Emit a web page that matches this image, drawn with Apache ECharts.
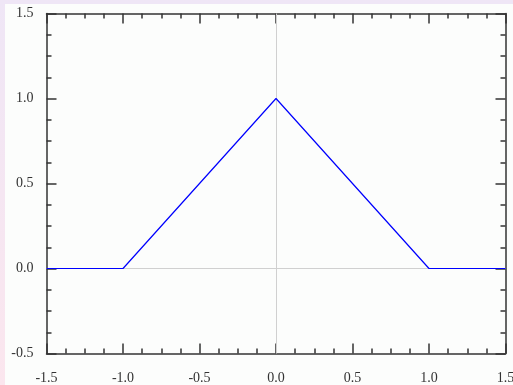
<!DOCTYPE html>
<html>
<head>
<meta charset="utf-8">
<script src="https://cdn.jsdelivr.net/npm/echarts@6/dist/echarts.min.js"></script>
<style>
  html, body { margin: 0; padding: 0; width: 513px; height: 385px; overflow: hidden; }
  body { background: linear-gradient(to bottom, #efe6f6, #fbe6ee); position: relative; }
  #chart { position: absolute; left: 5px; top: 4px; width: 508px; height: 381px; }
</style>
</head>
<body>
<div id="chart"></div>
<script>
// triangle function samples
const xValues = [-1.5, -1.0, 0.0, 1.0, 1.5];
const yValues = [0, 0, 1, 0, 0];
const xRange = [-1.5, 1.5];
const yRange = [-0.5, 1.5];

const labelFont = { fontFamily: '"Liberation Serif", "DejaVu Serif", serif', fontSize: 14, color: '#333' };
const axisColor = '#333';

function fmt(v) { return v.toFixed(1); }

function mkAxis(kind, pos, range, showLabels) {
    return {
        type: 'value',
        position: pos,
        min: range[0],
        max: range[1],
        interval: 0.5,
        axisLine: { show: true, onZero: false, lineStyle: { color: axisColor, width: 1.5 } },
        axisTick: { show: true, inside: true, length: 10, lineStyle: { color: axisColor, width: 1.5 } },
        minorTick: { show: true, splitNumber: 4, length: 5, lineStyle: { color: axisColor, width: 1.5 } },
        splitLine: { show: false },
        axisLabel: Object.assign({ show: showLabels, formatter: fmt, margin: kind === 'x' ? 18 : 13 }, labelFont)
    };
}

var myChart = echarts.init(document.getElementById('chart'), null, { renderer: 'canvas' });

var option = {
    backgroundColor: '#fcfdfc',
    animation: false,
    grid: { left: 41.5, right: 7.5, top: 9.5, bottom: 31.5, containLabel: false, outerBoundsMode: 'none' },
    xAxis: [mkAxis('x', 'bottom', xRange, true), mkAxis('x', 'top', xRange, false)],
    yAxis: [mkAxis('y', 'left', yRange, true), mkAxis('y', 'right', yRange, false)],
    series: [
        {
            type: 'line',
            data: xValues.map((x, i) => [x, yValues[i]]),
            showSymbol: false,
            lineStyle: { color: '#0000ff', width: 1.2 },
            z: 3,
            markLine: {
                // zero lines, kept under the curve
                z: 1,
                silent: true,
                symbol: 'none',
                label: { show: false },
                lineStyle: { color: '#d0d0d0', width: 1, type: 'solid' },
                data: [{ xAxis: 0 }, { yAxis: 0 }]
            }
        }
    ]
};

myChart.setOption(option);
</script>
</body>
</html>
